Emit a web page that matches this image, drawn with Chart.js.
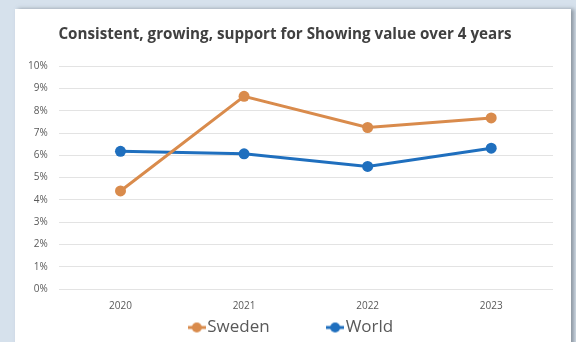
<!DOCTYPE html>
<html>
<head>
<meta charset="utf-8">
<script src="https://cdn.jsdelivr.net/npm/chart.js@4.4.0/dist/chart.umd.min.js"></script>
<style>
  html, body { margin: 0; padding: 0; }
  body { width: 576px; height: 342px; background: #d6e1ec; overflow: hidden; position: relative; }
  #card {
    position: absolute; left: 15px; top: 9px; width: 556px; height: 340px;
    background: #fff; box-shadow: 3px 0 4px rgba(90, 100, 110, 0.6);
  }
  #card canvas { display: block; }
</style>
</head>
<body>
<div id="card"><canvas id="grafico" width="556" height="337"></canvas></div>
<script>
// datos
const years = ['2020', '2021', '2022', '2023'];
const sweden = [4.4, 8.65, 7.25, 7.68];
const world = [6.18, 6.07, 5.5, 6.32];
const yTicks = [0, 1, 2, 3, 4, 5, 6, 7, 8, 9, 10];

const ORANGE = '#d98b4c';
const BLUE = '#1f6fbe';
const FONT = '"Open Sans", "Noto Sans", sans-serif';

// icono de leyenda estilo Excel: línea con marcador
function legendIcon(color) {
    const c = document.createElement('canvas');
    c.width = 18; c.height = 12;
    const g = c.getContext('2d');
    g.strokeStyle = color;
    g.lineWidth = 3;
    g.beginPath(); g.moveTo(0, 6); g.lineTo(18, 6); g.stroke();
    g.fillStyle = color;
    g.beginPath(); g.arc(9, 6, 5, 0, Math.PI * 2); g.fill();
    return c;
}

// desplaza la leyenda un poco a la derecha, como en el original
const moverLeyenda = {
    id: 'moverLeyenda',
    afterLayout(chart) {
        chart.legend.left += 9;
        chart.legend.right += 9;
    }
};

const ctx = document.getElementById('grafico').getContext('2d');
new Chart(ctx, {
    type: 'line',
    data: {
        labels: years,
        datasets: [
            { label: 'Sweden', data: sweden, borderColor: ORANGE, backgroundColor: ORANGE },
            { label: 'World', data: world, borderColor: BLUE, backgroundColor: BLUE }
        ]
    },
    plugins: [moverLeyenda],
    options: {
        responsive: false,
        animation: false,
        layout: { padding: { left: 2, right: 18, top: 4, bottom: 0 } },
        elements: {
            line: { borderWidth: 3, tension: 0 },
            point: { radius: 5.5, borderWidth: 0, hoverRadius: 6 }
        },
        plugins: {
            title: {
                display: true,
                text: 'Consistent, growing, support for Showing value over 4 years',
                color: '#404040',
                font: { size: 15.2, weight: 'bold', family: FONT },
                padding: { top: 13, bottom: 22 }
            },
            legend: {
                position: 'bottom',
                labels: {
                    usePointStyle: true,
                    pointStyleWidth: 4,
                    color: '#595959',
                    font: { size: 17, family: FONT },
                    padding: 4,
                    generateLabels: function(chart) {
                        const items = Chart.defaults.plugins.legend.labels.generateLabels(chart);
                        items.forEach(it => {
                            it.pointStyle = legendIcon(chart.data.datasets[it.datasetIndex].borderColor);
                            if (it.datasetIndex === 0) it.text = it.text + '\u2003\u2003\u2003\u2002';
                        });
                        return items;
                    }
                }
            },
            tooltip: { enabled: false }
        },
        scales: {
            x: {
                offset: true,
                grid: { display: false, drawTicks: false },
                border: { display: false },
                ticks: { color: '#595959', font: { size: 10, family: FONT }, padding: 11 },
                afterFit: axis => { axis.height = 26; }
            },
            y: {
                min: 0,
                max: 10,
                afterBuildTicks: axis => { axis.ticks = yTicks.map(v => ({ value: v })); },
                grid: { color: '#e3e3e3', lineWidth: 1, drawTicks: false },
                border: { display: false },
                ticks: {
                    color: '#595959',
                    font: { size: 10, family: FONT },
                    padding: 11,
                    callback: v => v + '%'
                }
            }
        }
    }
});
</script>
</body>
</html>
